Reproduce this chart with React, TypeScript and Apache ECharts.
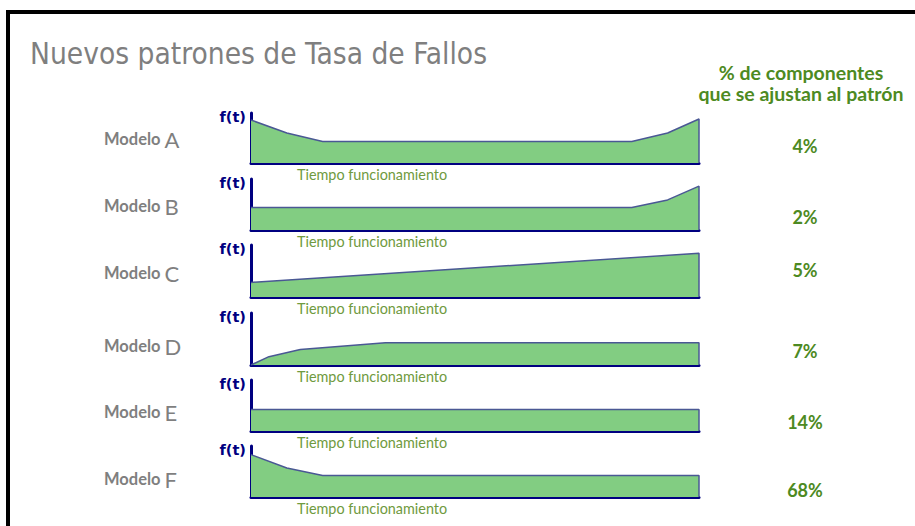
import React, { useEffect, useRef } from "react";
import * as echarts from "echarts";

// ---- data ----
const models = ["A", "B", "C", "D", "E", "F"];
const percentages = ["4%", "2%", "5%", "7%", "14%", "68%"];
const curveA = [[0, 86], [8, 60], [16, 43], [85, 43], [93, 60], [100, 88], [100, 0]];
const curveB = [[0, 44], [85, 44], [93, 59], [100, 86], [100, 0]];
const curveC = [[0, 28], [100, 84], [100, 0]];
const curveD = [[0, 0], [4, 16], [11, 30], [30, 43], [100, 43], [100, 0]];
const curveE = [[0, 42], [100, 42], [100, 0]];
const curveF = [[0, 83], [8, 57], [16, 42], [100, 42], [100, 0]];
const curves = [curveA, curveB, curveC, curveD, curveE, curveF];
const title = "Nuevos patrones de Tasa de Fallos";
const headerLines = ["% de componentes", "que se ajustan al patrón"];
const xName = "Tiempo funcionamiento";
const yName = "f(t)";

// ---- layout ----
const gridTops = [113, 179, 245, 313, 380, 446];
const gridHeights = [50, 51, 52, 52, 51, 51];
const modelY = [139, 206, 273, 346, 412, 479];
const pctY = [146, 217, 270, 351, 422, 490];

const NAVY = "#000080";
const GREEN_TXT = "#4d8a22";
const TIEMPO = "#6f9a40";
const GRAY = "#7f7f7f";

export default function App() {
  const ref = useRef<HTMLDivElement>(null);
  useEffect(() => {
    if (!ref.current) return;
    const chart = echarts.init(ref.current, null, { renderer: "svg" });

    const grids = gridTops.map((t, i) => ({
      left: 251,
      right: 216,
      top: t,
      height: gridHeights[i],
    }));
    const xAxes = curves.map((_, i) => ({
      type: "value",
      gridIndex: i,
      min: 0,
      max: 100,
      axisLine: { show: true, onZero: false, lineStyle: { color: NAVY, width: 3 } },
      axisTick: { show: false },
      axisLabel: { show: false },
      splitLine: { show: false },
    }));
    const yAxes = curves.map((_, i) => ({
      type: "value",
      gridIndex: i,
      min: 0,
      max: 100,
      axisLine: { show: true, lineStyle: { color: NAVY, width: 3 } },
      axisTick: { show: false },
      axisLabel: { show: false },
      splitLine: { show: false },
    }));
    const series = curves.map((c, i) => ({
      type: "line",
      xAxisIndex: i,
      yAxisIndex: i,
      data: c,
      symbol: "none",
      z: 1,
      lineStyle: { color: "#4a5894", width: 1.5 },
      areaStyle: { color: "#82cd82", opacity: 1 },
    }));

    const txt = (text: string, x: number, y: number, font: string, fill: string, align = "left", extra: any = {}) => ({
      type: "text",
      z: 10,
      style: {
        text,
        x,
        y,
        font,
        fill,
        textAlign: align,
        align,
        textVerticalAlign: "middle",
        verticalAlign: "middle",
        ...extra,
      },
    });

    const graphics: any[] = [];
    graphics.push({
      type: "polyline",
      shape: { points: [[8, 526], [8, 12], [915, 12]] },
      style: { stroke: "#000", lineWidth: 4, fill: null },
    });
    graphics.push(txt(title, 30, 54, "29.6px 'DejaVu Sans Condensed', 'DejaVu Sans'", GRAY));
    headerLines.forEach((l, i) =>
      graphics.push(txt(l, 801, 72 + i * 21, "bold 19.5px Lato", GREEN_TXT, "center"))
    );
    models.forEach((m, i) => {
      const top = gridTops[i];
      const bottom = top + gridHeights[i];
      graphics.push({
        type: "text",
        z: 10,
        style: {
          text: `{a|Modelo }{b|${m}}`,
          x: 104,
          y: modelY[i],
          textAlign: "left",
          align: "left",
          textVerticalAlign: "middle",
          verticalAlign: "middle",
          rich: {
            a: { fontFamily: "Lato", fontWeight: "bold", fontSize: 16.5, fill: GRAY, color: GRAY },
            b: { fontFamily: "Lato", fontWeight: "normal", fontSize: 22, fill: GRAY, color: GRAY },
          },
        },
      });
      graphics.push(txt(yName, 246, top + 4, "bold 14.5px 'DejaVu Sans'", NAVY, "right"));
      graphics.push(txt(xName, 297, bottom + 11, "14.4px Lato", TIEMPO));
      graphics.push(txt(percentages[i], 805, pctY[i], "bold 18px Lato", GREEN_TXT, "center"));
    });

    chart.setOption({
      animation: false,
      backgroundColor: "#ffffff",
      grid: grids,
      xAxis: xAxes,
      yAxis: yAxes,
      series,
      graphic: graphics,
    });
    return () => chart.dispose();
  }, []);
  return (
    <div
      ref={ref}
      style={{ position: "fixed", left: 0, top: 0, width: 915, height: 526 }}
    />
  );
}
